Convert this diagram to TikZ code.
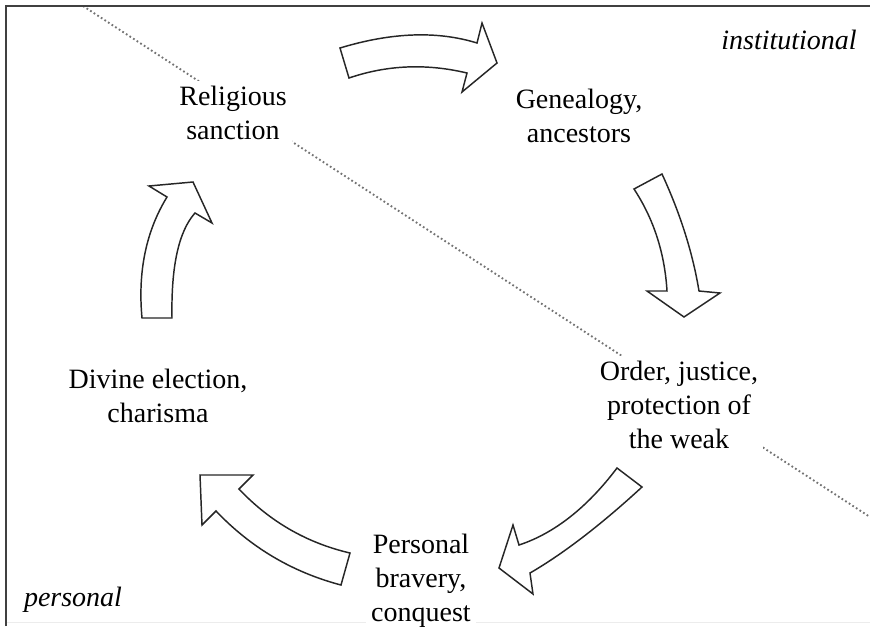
\documentclass[tikz,border=0pt]{standalone}
\usepackage{fontspec}
\setmainfont{Liberation Serif}
\begin{document}
\begin{tikzpicture}[x=0.75pt,y=-0.75pt,
 lbl/.style={align=center,font=\fontsize{21}{25.5}\selectfont,fill=white,inner sep=4pt},
 tag/.style={font=\fontsize{21}{25.5}\selectfont\itshape,inner sep=2pt},
 blockarrow/.style={draw=black!85,line width=1.1pt,fill=white,line join=miter},
 divider/.style={black!55,line width=1.4pt,dash pattern=on 1.3pt off 1.9pt},
 frameline/.style={black!75,line width=1.1pt}]
\useasboundingbox (0,0) rectangle (870,626);
\draw[gray!15,line width=0.6pt] (6,622) -- (870,622);
\coordinate (d1) at (83,6);
\coordinate (d2) at (870,517);
\draw[divider] (d1) -- (d2);
\node[lbl] (rel) at (233,113) {Religious\\sanction};
\node[lbl] (gen) at (579,116) {Genealogy,\\ancestors};
\node[lbl] (ord) at (679,405) {Order, justice,\\protection of\\the weak};
\node[lbl] (div) at (158,396) {Divine election,\\charisma};
\node[lbl] (per) at (421,581) {Personal\\bravery,\\conquest};
\node[tag] (inst) at (789,40) {institutional};
\node[tag] (pers) at (73,600) {personal};
% block arrows
\draw[blockarrow] (340,48) .. controls (391.7,32.3) and (437.3,30.7) .. (477,43) -- (482,23) -- (497,63) -- (462,92) -- (467,73) .. controls (426.3,63.3) and (387,65) .. (349,78) -- cycle;
\draw[blockarrow] (634,189) -- (662,174) .. controls (680.3,213.7) and (692.7,252.7) .. (699,291) -- (720,293) -- (684,317) -- (647,291) -- (667,291) .. controls (664.7,253) and (653.7,219) .. (634,189) -- cycle;
\draw[blockarrow] (617,468) -- (642,487) .. controls (600.7,525) and (563.3,553.7) .. (530,573) -- (533,594) -- (499,568) -- (513,525) -- (519,545) .. controls (554.3,533.3) and (587,507.7) .. (617,468) -- cycle;
\draw[blockarrow] (350,553) -- (341,585) .. controls (292.4,572.2) and (250.7,547.5) .. (216,511) -- (202,525) -- (200,475) -- (253,475) -- (239,489) .. controls (269.7,521.5) and (306.7,542.9) .. (350,553) -- cycle;
\draw[blockarrow] (142,318) -- (172,318) .. controls (171,266.3) and (178.7,231.3) .. (195,213) -- (212,223) -- (193,182) -- (149,186) -- (167,197) .. controls (146,231.3) and (137.7,271.7) .. (142,318) -- cycle;
\draw[frameline] (6,626) -- (6,6) -- (870,6);
\end{tikzpicture}
\end{document}
